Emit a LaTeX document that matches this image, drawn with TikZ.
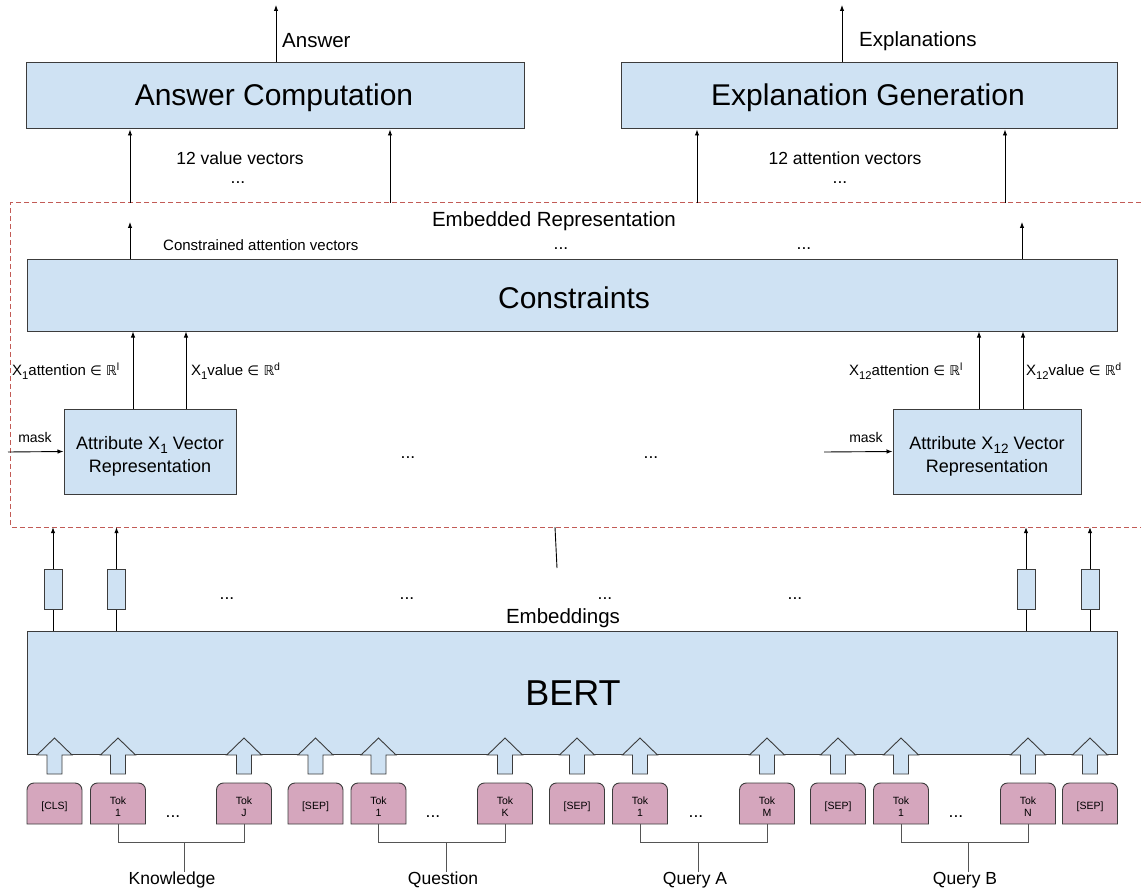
\documentclass[tikz,border=0pt]{standalone}
\usepackage{fontspec}
\setmainfont{Liberation Sans}
\newfontfamily\dejavu{DejaVu Sans}[Scale=0.9]
\usetikzlibrary{arrows.meta,calc}
\definecolor{boxblue}{HTML}{CFE2F3}
\definecolor{tokpink}{HTML}{D5A6BD}
\definecolor{edgegray}{HTML}{3C3C3C}
\definecolor{dashred}{HTML}{C25B56}
\definecolor{brgray}{HTML}{555555}
\newcommand{\inR}[1]{{\dejavu ∈ ℝ}\textsuperscript{#1}}
\newcommand{\lsub}[1]{\raisebox{-0.5ex}{\fontsize{0.75em}{0.8em}\selectfont #1}}
\newcommand{\tokbox}[3]{%
  \path[draw=edgegray,line width=0.9pt,fill=tokpink] ({#2-27.5},824) -- ({#2-27.5},790) arc[start angle=180,end angle=90,radius=7pt] -- ({#2+20.5},783) arc[start angle=90,end angle=0,radius=7pt] -- ({#2+27.5},824) -- cycle;
  \node[tokn] (#1) at (#2,806.5) {#3};}
\newcommand{\blockarrow}[1]{%
  \path[draw=edgegray,line width=0.9pt,fill=boxblue] ({#1-7.5},774) -- ({#1-7.5},755) -- ({#1-17.5},755) -- (#1,738) -- ({#1+17.5},755) -- ({#1+7.5},755) -- ({#1+7.5},774) -- cycle;}
\begin{document}
\begin{tikzpicture}[x=1pt,y=-1pt,
  box/.style={draw=edgegray, line width=1pt, fill=boxblue, inner sep=0pt},
  bigtxt/.style={font=\fontsize{30}{35}\selectfont},
  labtxt/.style={font=\fontsize{20.5}{24}\selectfont, inner sep=0pt},
  midtxt/.style={font=\fontsize{17.5}{21}\selectfont, inner sep=0pt},
  smltxt/.style={font=\fontsize{15}{18}\selectfont, inner sep=0pt},
  attrtxt/.style={font=\fontsize{18}{23}\selectfont, align=center},
  tokn/.style={font=\fontsize{10.5}{12.5}\selectfont, align=center, inner sep=0pt, text width=55pt},
  arr/.style={-{Latex[length=6pt,width=4.5pt]}, line width=0.9pt, draw=black},
  ln/.style={line width=0.9pt, draw=black},
  brl/.style={line width=1pt, draw=brgray},
  embbox/.style={draw=edgegray, line width=1pt, fill=boxblue, inner sep=0pt, minimum width=18pt, minimum height=40pt},
]
\useasboundingbox (0,0) rectangle (1141,896);

% top boxes
\node[box, minimum width=498pt, minimum height=66pt] (ans) at (275,96) {};
\node[box, minimum width=496pt, minimum height=66pt] (expl) at (869,96) {};
\node[bigtxt, inner sep=0pt] (anst) at (274,98) {Answer Computation};
\node[bigtxt, inner sep=0pt] (explt) at (868,98) {Explanation Generation};
\coordinate (ansout) at (276,5);
\coordinate (explout) at (842,5);
\draw[arr] (ansout |- ans.north) -- (ansout);
\draw[arr] (explout |- expl.north) -- (explout);
\node[labtxt, anchor=west] (anslab) at (282,41) {Answer};
\node[labtxt, anchor=west] (expllab) at (859,41) {Explanations};

% dashed embedded representation region
\node[minimum width=1130pt, minimum height=324pt, inner sep=0pt] (emb) at (576,365) {};
\draw[dashred, line width=1pt, dash pattern=on 5pt off 3pt] (emb.north east) -- (emb.north west) -- (emb.south west) -- (emb.south east);

% arrows into top boxes
\draw[arr] (130,0 |- emb.north) -- (130,0 |- ans.south);
\draw[arr] (390,0 |- emb.north) -- (390,0 |- ans.south);
\draw[arr] (697,0 |- emb.north) -- (697,0 |- expl.south);
\draw[arr] (1005,0 |- emb.north) -- (1005,0 |- expl.south);
\node[midtxt] (valv) at (240,158) {12 value vectors};
\node[midtxt] (vald) at (238,183) {...};
\node[midtxt] (attv) at (845,158) {12 attention vectors};
\node[midtxt] (attd) at (840,183) {...};

% constraints
\node[labtxt] (embrep) at (554,221) {Embedded Representation};
\node[box, minimum width=1090pt, minimum height=71pt] (cons) at (572,295.5) {};
\node[bigtxt, inner sep=0pt] (const) at (574,298) {Constraints};
\coordinate (c1) at (130,222);
\coordinate (c2) at (1022,222);
\draw[arr] (c1 |- cons.north) -- (c1);
\draw[arr] (c2 |- cons.north) -- (c2);
\node[smltxt, anchor=west] (cav) at (163,245) {Constrained attention vectors};
\node[midtxt] (cd1) at (561,249) {...};
\node[midtxt] (cd2) at (804,249) {...};

% attribute boxes
\node[box, minimum width=172pt, minimum height=85pt] (a1) at (150,451.5) {};
\node[box, minimum width=188pt, minimum height=85pt] (a12) at (987,451.5) {};
\node[attrtxt, inner sep=0pt] (a1t) at (150,456) {Attribute X\lsub{1} Vector\\Representation};
\node[attrtxt, inner sep=0pt] (a12t) at (987,456) {Attribute X\lsub{12} Vector\\Representation};
\draw[arr] (133,0 |- a1.north) -- (133,0 |- cons.south);
\draw[arr] (186,0 |- a1.north) -- (186,0 |- cons.south);
\draw[arr] (979,0 |- a12.north) -- (979,0 |- cons.south);
\draw[arr] (1023,0 |- a12.north) -- (1023,0 |- cons.south);
\node[smltxt, anchor=west] (l1a) at (12,371) {X\lsub{1}attention \inR{l}};
\node[smltxt, anchor=west] (l1v) at (191,371) {X\lsub{1}value \inR{d}};
\node[smltxt, anchor=west] (l12a) at (849,371) {X\lsub{12}attention \inR{l}};
\node[smltxt, anchor=west] (l12v) at (1026,371) {X\lsub{12}value \inR{d}};
\coordinate (m1) at (8,452);
\coordinate (m12) at (824,452);
\draw[arr] (m1) -- (a1.west);
\draw[arr] (m12) -- (a12.west);
\node[smltxt, font=\fontsize{14}{17}\selectfont] (mask1) at (35,437) {mask};
\node[smltxt, font=\fontsize{14}{17}\selectfont] (mask12) at (866,437) {mask};
\node[midtxt] (ad1) at (408,458) {...};
\node[midtxt] (ad2) at (651,458) {...};

% BERT and embeddings
\node[box, minimum width=1090pt, minimum height=123pt] (bert) at (572,692.5) {};
\node[font=\fontsize{36}{42}\selectfont, inner sep=0pt] (bertt) at (573,693) {BERT};
\node[embbox] (e1) at (53,589) {};
\node[embbox] (e2) at (116.5,589) {};
\node[embbox] (e3) at (1026,589) {};
\node[embbox] (e4) at (1090,589) {};
\foreach \e in {e1,e2,e3,e4}{
  \draw[ln] (\e |- bert.north) -- (\e.south);
  \draw[arr] (\e.north) -- (\e |- emb.south);
}
\coordinate (ms) at (557,568);
\draw[ln] (ms) -- (555,0 |- emb.south);
\node[midtxt] (ed1) at (227,599) {...};
\node[midtxt] (ed2) at (407,599) {...};
\node[midtxt] (ed3) at (605,599) {...};
\node[midtxt] (ed4) at (795,599) {...};
\node[labtxt] (embs) at (563,618) {Embeddings};

% block arrows
\foreach \c in {54.5,118,244,315.5,378.5,505,577,640,767,838,901,1028,1090}{\blockarrow{\c}}

% tokens
\tokbox{cls}{54.5}{[CLS]}
\tokbox{k1}{118}{Tok\\1}
\tokbox{kj}{244}{Tok\\J}
\tokbox{s1}{315.5}{[SEP]}
\tokbox{q1}{378.5}{Tok\\1}
\tokbox{qk}{505}{Tok\\K}
\tokbox{s2}{577}{[SEP]}
\tokbox{qa1}{640}{Tok\\1}
\tokbox{qam}{767}{Tok\\M}
\tokbox{s3}{838}{[SEP]}
\tokbox{qb1}{901}{Tok\\1}
\tokbox{qbn}{1028}{Tok\\N}
\tokbox{s4}{1090}{[SEP]}
\node[midtxt] (td1) at (173,817) {...};
\node[midtxt] (td2) at (433,817) {...};
\node[midtxt] (td3) at (696,817) {...};
\node[midtxt] (td4) at (956,817) {...};

% brackets
\coordinate (k1b) at (118,824);  \coordinate (kjb) at (244,824);
\coordinate (q1b) at (378.5,824); \coordinate (qkb) at (505,824);
\coordinate (a1b) at (640,824);  \coordinate (amb) at (767,824);
\coordinate (b1b) at (901,824);  \coordinate (bnb) at (1028,824);
\draw[brl] (k1b) -- ++(0,18) -| (kjb);
\draw[brl] (q1b) -- ++(0,18) -| (qkb);
\draw[brl] (a1b) -- ++(0,18) -| (amb);
\draw[brl] (b1b) -- ++(0,18) -| (bnb);
\node[midtxt] (know) at (172,880) {Knowledge};
\node[midtxt] (ques) at (443,880) {Question};
\node[midtxt] (qa) at (695,880) {Query A};
\node[midtxt] (qb) at (965,880) {Query B};
\coordinate (bk) at (184,842);
\coordinate (bq) at (446,842);
\coordinate (ba) at (698,842);
\coordinate (bb) at (968,842);
\draw[brl] (bk) -- (bk |- know.north);
\draw[brl] (bq) -- (bq |- ques.north);
\draw[brl] (ba) -- (ba |- qa.north);
\draw[brl] (bb) -- (bb |- qb.north);
\end{tikzpicture}
\end{document}
